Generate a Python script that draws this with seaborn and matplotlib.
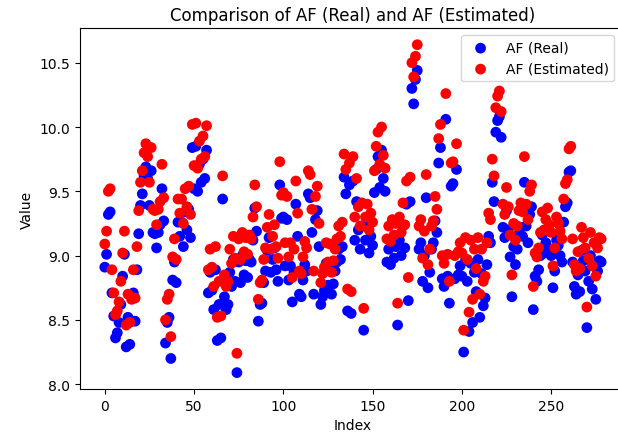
import numpy as np
import pandas as pd
import seaborn as sns
import matplotlib
matplotlib.use("Agg")
import matplotlib.pyplot as plt

# values, index 0..278
af_real = [
    8.91, 9.01, 9.32, 9.34, 8.71, 8.53, 8.36, 8.40, 8.48, 8.62,
    8.84, 9.01, 8.29, 8.52, 8.31, 8.49, 8.71, 8.49, 8.89, 9.17,
    9.39, 9.48, 9.62, 9.69, 9.60, 9.39, 9.66, 9.18, 9.17, 9.06,
    9.18, 9.24, 9.52, 9.27, 8.32, 8.48, 8.52, 8.20, 8.81, 8.95,
    8.79, 9.26, 9.15, 9.26, 9.07, 9.34, 9.20, 9.36, 9.14, 9.84,
    9.52, 9.85, 9.50, 9.71, 9.57, 9.75, 9.60, 9.82, 8.71, 8.87,
    8.73, 8.58, 8.89, 8.34, 8.62, 8.36, 9.44, 8.68, 8.58, 8.62,
    8.87, 8.76, 8.97, 8.80, 8.09, 8.95, 8.79, 9.00, 8.85, 8.96,
    8.83, 8.97, 8.95, 9.12, 9.37, 9.19, 8.49, 8.62, 8.63, 8.79,
    8.88, 9.04, 9.14, 8.87, 8.97, 9.06, 8.89, 8.80, 9.55, 9.29,
    9.30, 8.92, 9.28, 8.81, 8.92, 8.64, 8.87, 9.40, 9.15, 8.70,
    8.68, 8.81, 8.93, 8.88, 9.48, 9.45, 9.18, 8.70, 9.28, 9.35,
    9.07, 8.62, 8.68, 8.73, 8.94, 8.77, 8.92, 8.70, 8.78, 8.88,
    8.95, 9.05, 8.97, 9.07, 9.61, 9.48, 8.57, 9.55, 8.55, 9.58,
    9.12, 9.42, 9.20, 9.05, 9.23, 8.42, 9.12, 9.22, 9.02, 9.15,
    9.08, 9.49, 9.67, 9.77, 9.53, 9.82, 9.60, 9.50, 8.95, 9.05,
    8.93, 9.10, 8.98, 9.07, 8.46, 9.12, 9.00, 9.23, 9.06, 9.40,
    8.65, 9.42, 10.30, 10.18, 10.37, 10.44, 9.05, 9.10, 8.80, 9.00,
    9.45, 8.75, 8.87, 9.05, 9.10, 9.27, 9.18, 9.72, 9.84, 8.82,
    8.76, 10.06, 8.84, 8.63, 9.54, 9.56, 8.82, 9.67, 8.85, 8.92,
    8.84, 8.25, 8.96, 8.80, 8.41, 8.94, 8.48, 8.87, 8.72, 8.97,
    8.52, 8.86, 8.61, 8.67, 8.93, 9.15, 9.10, 9.57, 9.42, 9.96,
    10.05, 10.08, 9.92, 9.22, 9.14, 9.35, 9.20, 8.99, 8.68, 9.07,
    8.93, 9.05, 9.17, 9.22, 9.15, 9.57, 9.23, 9.10, 9.32, 9.38,
    8.58, 8.84, 8.80, 8.89, 9.00, 9.16, 9.02, 9.10, 9.20, 9.05,
    9.00, 8.75, 8.88, 9.12, 9.08, 9.00, 8.95, 9.26, 9.38, 9.41,
    9.65, 9.66, 8.95, 8.76, 8.70, 8.85, 8.72, 9.04, 8.96, 8.88,
    8.44, 8.80, 9.00, 8.74, 8.92, 8.66, 8.88, 8.96, 8.95,
]

af_est = [
    9.09, 9.19, 9.50, 9.52, 8.89, 8.71, 8.54, 8.57, 8.64, 8.80,
    9.02, 9.19, 8.46, 8.70, 8.48, 8.66, 8.89, 8.67, 9.07, 9.35,
    9.57, 9.66, 9.80, 9.87, 9.77, 9.57, 9.84, 9.36, 9.35, 9.24,
    9.36, 9.42, 9.71, 9.45, 8.50, 8.66, 8.70, 8.37, 8.99, 9.13,
    8.97, 9.44, 9.33, 9.44, 9.25, 9.52, 9.38, 9.54, 9.32, 10.02,
    9.70, 10.03, 9.68, 9.89, 9.75, 9.93, 9.77, 10.01, 8.89, 9.05,
    8.91, 8.76, 9.07, 8.52, 8.80, 8.53, 9.62, 8.85, 8.76, 8.80,
    9.05, 8.94, 9.15, 8.98, 8.24, 9.13, 8.97, 9.18, 9.03, 9.14,
    9.01, 9.16, 9.13, 9.30, 9.55, 9.38, 8.66, 8.79, 8.81, 8.97,
    9.06, 9.22, 9.32, 9.05, 9.15, 9.24, 9.07, 8.98, 9.73, 9.47,
    9.49, 9.10, 9.46, 8.99, 9.10, 8.83, 9.05, 9.58, 9.33, 8.88,
    8.86, 8.99, 9.11, 9.06, 9.66, 9.63, 9.36, 8.88, 9.46, 9.54,
    9.25, 8.79, 8.86, 8.91, 9.10, 8.95, 9.09, 8.87, 8.96, 9.05,
    9.13, 9.23, 9.15, 9.26, 9.79, 9.67, 8.74, 9.72, 8.72, 9.77,
    9.30, 9.60, 9.38, 9.23, 9.41, 8.59, 9.30, 9.40, 9.20, 9.33,
    9.26, 9.66, 9.85, 9.96, 9.71, 10.00, 9.78, 9.68, 9.13, 9.23,
    9.11, 9.28, 9.16, 9.25, 8.63, 9.30, 9.18, 9.41, 9.24, 9.58,
    8.83, 9.61, 10.50, 10.39, 10.55, 10.64, 9.23, 9.28, 8.98, 9.19,
    9.63, 8.93, 9.05, 9.23, 9.27, 9.46, 9.36, 9.91, 10.02, 9.00,
    8.94, 10.26, 9.01, 8.80, 9.72, 9.73, 9.00, 9.87, 9.03, 9.10,
    9.02, 8.42, 9.14, 8.97, 8.56, 9.12, 8.66, 9.05, 8.90, 9.14,
    8.70, 9.05, 8.80, 8.84, 9.10, 9.33, 9.28, 9.75, 9.62, 10.15,
    10.24, 10.28, 10.12, 9.40, 9.32, 9.53, 9.38, 9.16, 8.85, 9.25,
    9.12, 9.23, 9.35, 9.41, 9.34, 9.77, 9.40, 9.28, 9.50, 9.55,
    8.76, 9.02, 8.99, 9.06, 9.18, 9.34, 9.20, 9.28, 9.37, 9.24,
    9.18, 8.92, 9.06, 9.30, 9.25, 9.19, 9.13, 9.44, 9.56, 9.59,
    9.83, 9.85, 9.13, 8.93, 8.88, 9.03, 8.90, 9.22, 9.14, 9.06,
    8.60, 8.98, 9.18, 8.92, 9.10, 8.84, 9.06, 9.14, 9.13,
]

index = np.arange(len(af_real))
df = pd.DataFrame({"Index": index, "real": af_real, "est": af_est})

fig = plt.figure(figsize=(6.18, 4.35), dpi=100)
# axes run slightly past the right edge, like the cropped original
ax = fig.add_axes([0.1294, 0.1034, 0.8835, 0.8292])

sns.scatterplot(data=df, x="Index", y="real", color="blue", s=60,
                edgecolor="none", linewidth=0, label="AF (Real)", ax=ax)
sns.scatterplot(data=df, x="Index", y="est", color="red", s=60,
                edgecolor="none", linewidth=0, label="AF (Estimated)", ax=ax)

ax.set_title("Comparison of AF (Real) and AF (Estimated)")
ax.set_xlabel("Index")
ax.set_ylabel("Value")
ax.legend(loc="upper right", bbox_to_anchor=(0.991, 1.0))

fig.savefig("out.png", dpi=100)
